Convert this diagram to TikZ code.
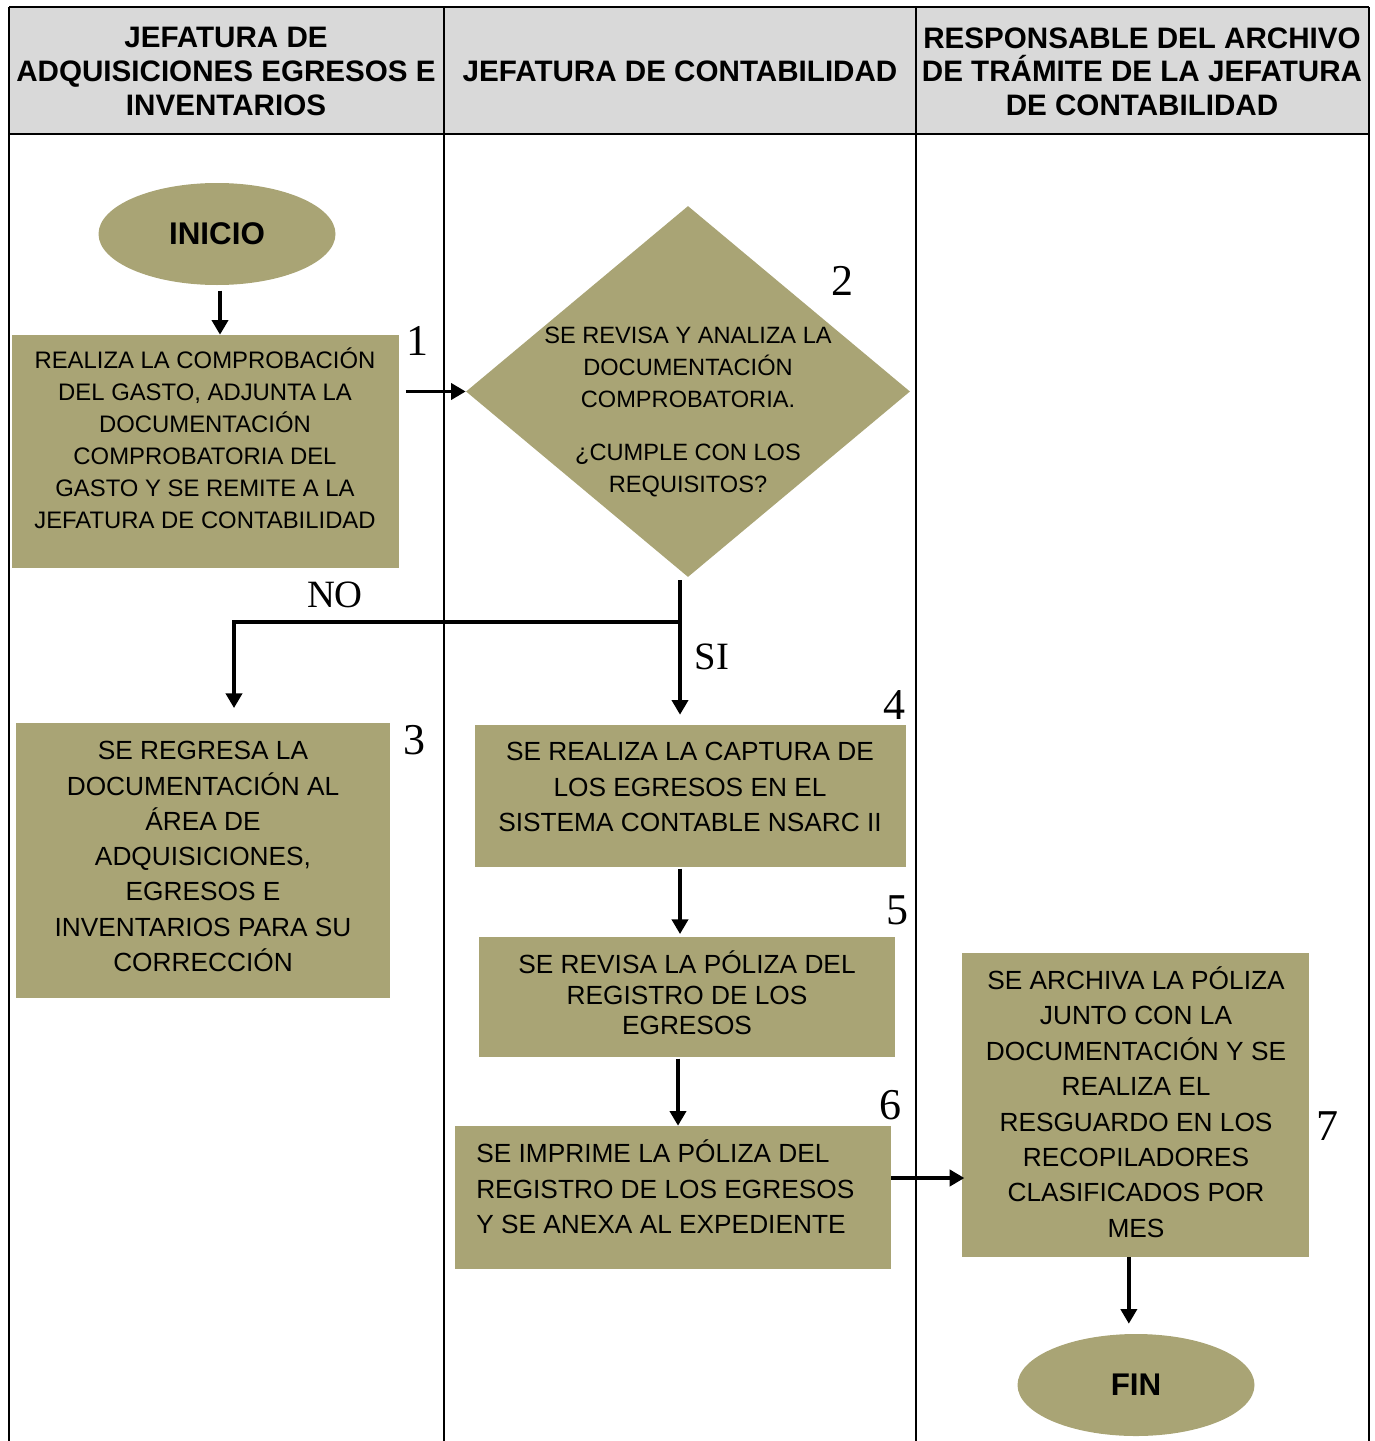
\documentclass[tikz,border=0pt]{standalone}
\usepackage{fontspec}
\setmainfont{Liberation Sans}
\newfontfamily\numfont{Liberation Serif}
\usetikzlibrary{shapes.geometric,arrows.meta}
\definecolor{olive}{RGB}{169,164,117}
\definecolor{hdrgray}{RGB}{217,217,217}
\tikzset{
  grid/.style={line width=1.5pt},
  boxs/.style={fill=olive, draw=none, inner sep=0pt, minimum width=#1*0.75pt},
  bh/.style={minimum height=#1*0.75pt},
  txt/.style={align=center, inner sep=0pt, font=\fontsize{19.7}{26.6}\selectfont},
  hdr/.style={align=center, inner sep=0pt, font=\bfseries\fontsize{22.2}{25.2}\selectfont},
  term/.style={ellipse, fill=olive, draw=none, inner sep=0pt, minimum width=237*0.75pt, minimum height=102*0.75pt, font=\bfseries\fontsize{23.5}{28}\selectfont},
  num/.style={inner sep=0pt, font=\numfont\fontsize{33}{36}\selectfont},
  yn/.style={inner sep=0pt, font=\numfont\fontsize{29}{32}\selectfont},
  arr/.style={line width=2.9pt, -{Triangle[length=11pt,width=12pt]}},
  conn/.style={line width=2.9pt},
}
\begin{document}
\begin{tikzpicture}[x=0.75pt,y=-0.75pt]
\useasboundingbox (0,0) rectangle (1374,1441);
% table
\fill[hdrgray] (9,7) rectangle (1369,134);
\draw[grid] (9,7) -- (1369,7);
\draw[grid] (9,134) -- (1369,134);
\draw[grid] (9,7) -- (9,1441);
\draw[grid] (444,7) -- (444,1441);
\draw[grid] (916,7) -- (916,1441);
\draw[grid] (1369,7) -- (1369,1441);
\node[hdr] (h1) at (226,71.5) {JEFATURA DE\\ADQUISICIONES EGRESOS E\\INVENTARIOS};
\node[hdr] (h2) at (680,71.5) {JEFATURA DE CONTABILIDAD};
\node[hdr] (h3) at (1142,71.5) {RESPONSABLE DEL ARCHIVO\\DE TRÁMITE DE LA JEFATURA\\DE CONTABILIDAD};

% shapes
\node[term] (start) at (217,234) {INICIO};
\node[boxs=387, bh=233] (b1) at (205.5,451.5) {};
\node[txt, font=\fontsize{17.9}{24}\selectfont] (t1) at (205,438) {REALIZA LA COMPROBACIÓN\\DEL GASTO, ADJUNTA LA\\DOCUMENTACIÓN\\COMPROBATORIA DEL\\GASTO Y SE REMITE A LA\\JEFATURA DE CONTABILIDAD};
\node[diamond, fill=olive, draw=none, inner sep=0pt, minimum width=444*0.75pt, minimum height=371*0.75pt] (d) at (688,391.5) {};
\node[txt, font=\fontsize{17.7}{24}\selectfont] (td) at (688,412) {SE REVISA Y ANALIZA LA\\DOCUMENTACIÓN\\COMPROBATORIA.\\[15.5pt]¿CUMPLE CON LOS\\REQUISITOS?};
\node[boxs=374, bh=275] (b3) at (203,860.5) {};
\node[txt, font=\fontsize{19.7}{26.45}\selectfont] (t3) at (203,856.5) {SE REGRESA LA\\DOCUMENTACIÓN AL\\ÁREA DE\\ADQUISICIONES,\\EGRESOS E\\INVENTARIOS PARA SU\\CORRECCIÓN};
\node[boxs=431, bh=142] (b4) at (690.5,796) {};
\node[txt] (t4) at (690,787) {SE REALIZA LA CAPTURA DE\\LOS EGRESOS EN EL\\SISTEMA CONTABLE NSARC II};
\node[boxs=416, bh=120] (b5) at (687,997) {};
\node[txt, font=\fontsize{19.7}{22.9}\selectfont] (t5) at (687,993) {SE REVISA LA PÓLIZA DEL\\REGISTRO DE LOS\\EGRESOS};
\node[boxs=436, bh=143] (b6) at (673,1197.5) {};
\node[txt, align=left, anchor=west] (t6) at (476,1187) {SE IMPRIME LA PÓLIZA DEL\\REGISTRO DE LOS EGRESOS\\Y SE ANEXA AL EXPEDIENTE};
\node[boxs=347, bh=304] (b7) at (1135.5,1105) {};
\node[txt] (t7) at (1136,1102) {SE ARCHIVA LA PÓLIZA\\JUNTO CON LA\\DOCUMENTACIÓN Y SE\\REALIZA EL\\RESGUARDO EN LOS\\RECOPILADORES\\CLASIFICADOS POR\\MES};
\node[term] (fin) at (1136,1385) {FIN};

% numbers
\node[num] (n1) at (417,341) {1};
\node[num] (n2) at (842,281) {2};
\node[num] (n3) at (414,740) {3};
\node[num] (n4) at (894,705) {4};
\node[num] (n5) at (897,910) {5};
\node[num] (n6) at (890,1105) {6};
\node[num] (n7) at (1327,1126) {7};
\node[yn] (no) at (335,595) {NO};
\node[yn] (si) at (712,657) {SI};

% connectors
\coordinate (dout) at (680,580);
\coordinate (split) at (680,622);
\coordinate (nocorner) at (234,622);
\coordinate (colx) at (680,0);
\coordinate (colx2) at (678,0);
\coordinate (row6) at (0,1178);
\draw[arr] ([xshift=2.25pt,yshift=-4pt]start.south) -- ([xshift=2.25pt]start.south |- b1.north);
\draw[arr] ([xshift=5pt]b1.east |- d.west) -- (d.west);
\draw[arr] (dout) -- ([yshift=7.5pt]split |- b4.north);
\draw[conn] ([xshift=1.45pt]split) -- (nocorner);
\draw[arr] ([yshift=1.45pt]nocorner) -- ([yshift=11pt]nocorner |- b3.north);
\draw[arr] ([yshift=-1pt]colx |- b4.south) -- ([yshift=2pt]colx |- b5.north);
\draw[arr] ([yshift=-1pt]colx2 |- b5.south) -- (colx2 |- b6.north);
\draw[arr] (b6.east |- row6) -- ([xshift=2pt]b7.west |- row6);
\draw[arr] ([xshift=-5pt]b7.south) -- ([xshift=-5pt,yshift=7.5pt]b7.south |- fin.north);
\end{tikzpicture}
\end{document}
